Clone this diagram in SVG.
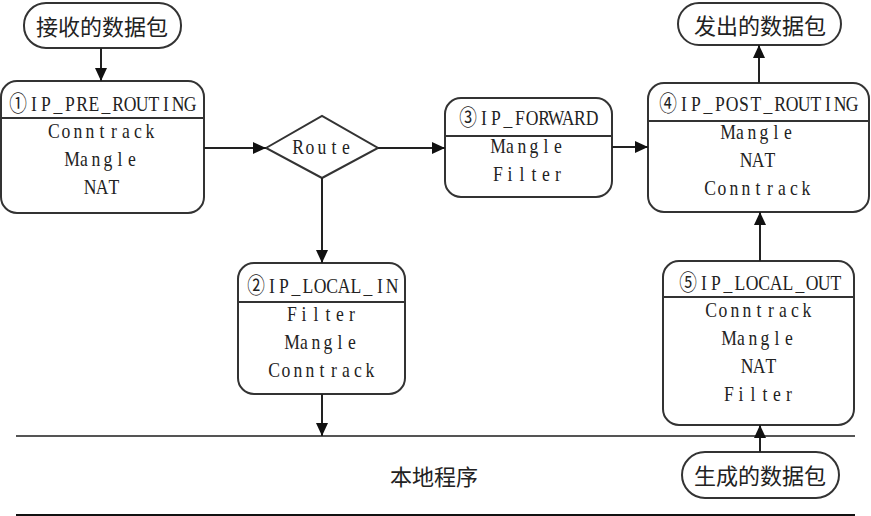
<svg xmlns="http://www.w3.org/2000/svg" width="871" height="516" viewBox="0 0 871 516">
<style>
.box{fill:#fff;stroke:#333;stroke-width:2}
.div{stroke:#333;stroke-width:2}
.m{font-family:"Liberation Serif","Noto Sans CJK SC",serif;font-size:22px;fill:#222;text-anchor:middle}
.c{font-family:"Noto Sans CJK SC","Noto Sans",sans-serif;font-size:22px;fill:#222;text-anchor:middle;dominant-baseline:central}
.ln{stroke:#222;stroke-width:2;fill:none}
</style>
<defs>
<marker id="ah" markerUnits="userSpaceOnUse" markerWidth="14" markerHeight="12" refX="13" refY="6" orient="auto">
<path d="M0,0 L13,6 L0,12 Z" fill="#111"/>
</marker>
</defs>
<rect width="871" height="516" fill="#fff"/>

<g id="recv">
<rect class="box" x="24" y="3" width="157" height="45" rx="22"/>
<text class="c" x="102" y="25">接收的数据包</text>
</g>

<g id="pre">
<rect class="box" x="1" y="81" width="203" height="132" rx="16"/>
<line class="div" x1="1" y1="118" x2="204" y2="118"/>
<g transform="scale(0.8,1)">
<text class="m" y="111" x="22.5 42.5 57.5 72.5 87.5 102.5 117.5 132.5 147.5 162.5 177.5 192.5 207.5 222.5 237.5">①IP_PRE_ROUTING</text>
<text class="m" y="138" x="67.5 82.5 97.5 112.5 127.5 142.5 157.5 172.5 187.5">Conntrack</text>
<text class="m" y="166" x="90 105 120 135 150 165">Mangle</text>
<text class="m" y="194" x="112.5 127.5 142.5">NAT</text>
</g>
</g>

<g id="route">
<polygon class="box" points="266,148 322,116 378,148 322,178"/>
<text class="m" y="154" transform="scale(0.8,1)" x="372.5 387.5 402.5 417.5 432.5">Route</text>
</g>

<g id="forward">
<rect class="box" x="445" y="98" width="167" height="99" rx="16"/>
<line class="div" x1="445" y1="136" x2="612" y2="136"/>
<g transform="scale(0.8,1)">
<text class="m" y="125" x="585 605 620 635 650 665 680 695 710 725 740">③IP_FORWARD</text>
<text class="m" y="153" x="622.5 637.5 652.5 667.5 682.5 697.5">Mangle</text>
<text class="m" y="181" x="622.5 637.5 652.5 667.5 682.5 697.5">Filter</text>
</g>
</g>

<g id="post">
<rect class="box" x="648" y="83" width="221" height="129" rx="16"/>
<line class="div" x1="648" y1="121" x2="869" y2="121"/>
<g transform="scale(0.8,1)">
<text class="m" y="111" x="835 855 870 885 900 915 930 945 960 975 990 1005 1020 1035 1050 1065">④IP_POST_ROUTING</text>
<text class="m" y="139" x="910 925 940 955 970 985">Mangle</text>
<text class="m" y="167" x="932.5 947.5 962.5">NAT</text>
<text class="m" y="195" x="887.5 902.5 917.5 932.5 947.5 962.5 977.5 992.5 1007.5">Conntrack</text>
</g>
</g>

<g id="sent">
<rect class="box" x="678" y="3" width="163" height="42" rx="21"/>
<text class="c" x="760" y="24">发出的数据包</text>
</g>

<g id="localin">
<rect class="box" x="238" y="263" width="167" height="131" rx="16"/>
<line class="div" x1="238" y1="302" x2="405" y2="302"/>
<g transform="scale(0.8,1)">
<text class="m" y="293" x="320 340 355 370 385 400 415 430 445 460 475 490">②IP_LOCAL_IN</text>
<text class="m" y="321" x="365 380 395 410 425 440">Filter</text>
<text class="m" y="349" x="365 380 395 410 425 440">Mangle</text>
<text class="m" y="377" x="342.5 357.5 372.5 387.5 402.5 417.5 432.5 447.5 462.5">Conntrack</text>
</g>
</g>

<g id="localout">
<rect class="box" x="663" y="261" width="191" height="164" rx="16"/>
<line class="div" x1="663" y1="297" x2="854" y2="297"/>
<g transform="scale(0.8,1)">
<text class="m" y="290" x="860 880 895 910 925 940 955 970 985 1000 1015 1030 1045">⑤IP_LOCAL_OUT</text>
<text class="m" y="317" x="888.75 903.75 918.75 933.75 948.75 963.75 978.75 993.75 1008.75">Conntrack</text>
<text class="m" y="345" x="911.25 926.25 941.25 956.25 971.25 986.25">Mangle</text>
<text class="m" y="373" x="933.75 948.75 963.75">NAT</text>
<text class="m" y="401" x="911.25 926.25 941.25 956.25 971.25 986.25">Filter</text>
</g>
</g>

<g id="gen">
<rect class="box" x="682" y="452" width="157" height="46" rx="23"/>
<text class="c" x="760" y="474">生成的数据包</text>
</g>

<g id="local">
<line x1="16" y1="436" x2="855" y2="436" stroke="#555" stroke-width="2"/>
<line x1="16" y1="515" x2="855" y2="515" stroke="#111" stroke-width="2"/>
<text class="c" x="434" y="475" fill="#333">本地程序</text>
</g>

<g id="connectors">
<line class="ln" x1="101" y1="48" x2="101" y2="81" marker-end="url(#ah)"/>
<line class="ln" x1="204" y1="148" x2="266" y2="148" marker-end="url(#ah)"/>
<line class="ln" x1="378" y1="148" x2="445" y2="148" marker-end="url(#ah)"/>
<line class="ln" x1="612" y1="147" x2="648" y2="147" marker-end="url(#ah)"/>
<line class="ln" x1="759" y1="83" x2="759" y2="45" marker-end="url(#ah)"/>
<line class="ln" x1="322" y1="178" x2="322" y2="263" marker-end="url(#ah)"/>
<line class="ln" x1="322" y1="394" x2="322" y2="436" marker-end="url(#ah)"/>
<line class="ln" x1="760" y1="261" x2="760" y2="212" marker-end="url(#ah)"/>
<line class="ln" x1="760" y1="452" x2="760" y2="425" marker-end="url(#ah)"/>
</g>
</svg>
